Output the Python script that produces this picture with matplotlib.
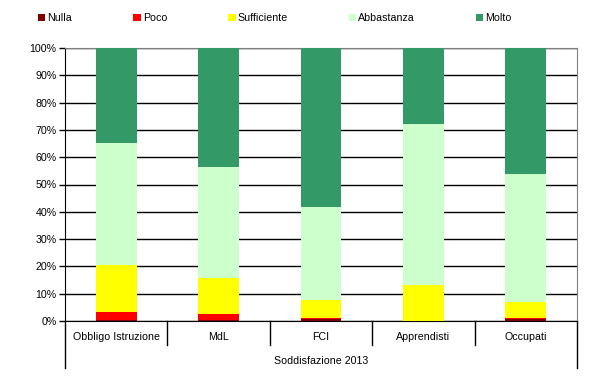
import numpy as np
import matplotlib.pyplot as plt

plt.rcParams['font.family'] = ['Liberation Sans', 'DejaVu Sans']

# data (percent per category)
categories = ["Obbligo Istruzione", "MdL", "FCI", "Apprendisti", "Occupati"]
series_names = ["Nulla", "Poco", "Sufficiente", "Abbastanza", "Molto"]
nulla = [0.5, 0.5, 0.8, 0.0, 0.9]
poco = [2.8, 2.2, 0.3, 0.0, 0.1]
sufficiente = [17.2, 13.2, 6.7, 13.1, 5.8]
abbastanza = [44.8, 40.5, 34.0, 59.1, 47.0]
molto = [34.7, 43.6, 58.2, 27.8, 46.2]
group_label = "Soddisfazione 2013"
colors = ["#800000", "#FF0000", "#FFFF00", "#CCFFCC", "#339966"]

fs = 7.7
fig = plt.figure(figsize=(5.91, 3.87), dpi=100)
ax = fig.add_axes([65 / 591, 1 - 321 / 387, 512 / 591, 273 / 387])

x = np.arange(len(categories))
bottom = np.zeros(len(categories))
handles = []
for name, vals, c in zip(series_names, [nulla, poco, sufficiente, abbastanza, molto], colors):
    b = ax.bar(x, vals, width=0.4, bottom=bottom, color=c, label=name, zorder=3)
    handles.append(b)
    bottom += np.array(vals)

ax.set_xlim(-0.5, len(categories) - 0.5)
ax.set_ylim(0, 100)
ax.set_yticks(np.arange(0, 101, 10))
ax.set_yticklabels([f"{v}%" for v in range(0, 101, 10)], fontsize=fs)
ax.yaxis.grid(True, color="black", linewidth=1, zorder=0)
ax.tick_params(axis='y', length=4, width=1, pad=2, color="black")
ax.set_xticks([])

for s in ["top", "right"]:
    ax.spines[s].set_color("#808080")
ax.spines["left"].set_color("black")
ax.spines["bottom"].set_color("black")

# category axis labels (two levels)
trans = ax.get_xaxis_transform()
for i, cat in enumerate(categories):
    ax.text(i, -16 / 273, cat, transform=trans, ha="center", va="center", fontsize=fs)
for b in np.arange(0.5, len(categories) - 0.5, 1):
    ax.plot([b, b], [0, -24 / 273], transform=trans, color="black", lw=1, clip_on=False)
for b in [-0.5, len(categories) - 0.5]:
    ax.plot([b, b], [0, -47 / 273], transform=trans, color="black", lw=1, clip_on=False)
ax.text((len(categories) - 1) / 2, -40 / 273, group_label, transform=trans,
        ha="center", va="center", fontsize=fs)

fig.legend(handles=handles, labels=series_names, loc="center",
           bbox_to_anchor=(38 / 591, 1 - 18 / 387, 474 / 591, 0.0), mode="expand",
           ncol=5, frameon=False, fontsize=fs, handlelength=0.7, handleheight=0.7,
           handletextpad=0.2, borderpad=0, borderaxespad=0)

fig.savefig("out.png", dpi=100)
